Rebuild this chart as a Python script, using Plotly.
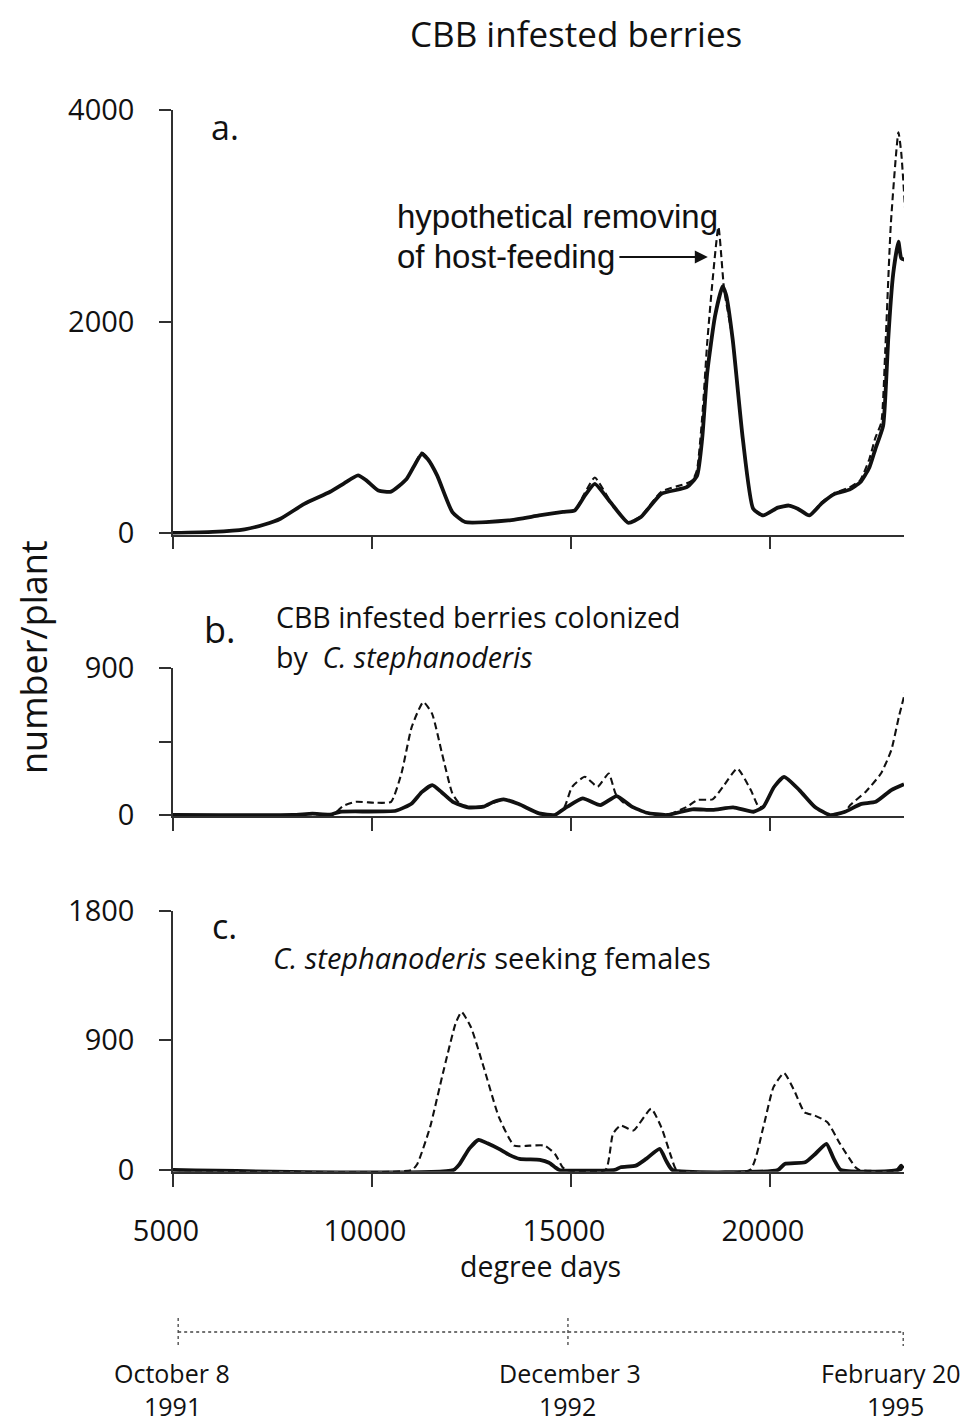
import plotly.graph_objects as go

# ---------------- data ----------------
# Panel a: CBB infested berries
a_solid_x = [5000, 6000, 6800, 7300, 7700, 8300, 8950, 9300, 9650, 9850, 10160, 10480, 10870, 11250, 11400, 11640,
             12020, 12340, 13430, 14200, 14800, 15100, 15350, 15600, 15990, 16440, 16760, 17270, 17910, 18170, 18300,
             18425, 18620, 18810, 18900, 19065, 19320, 19580, 19830, 20200, 20475, 20700, 20990, 21300, 21630, 22000,
             22270, 22500, 22650, 22845, 22930, 22973, 23100, 23230, 23300, 23395]
a_solid_y = [0, 10, 35, 80, 135, 276, 390, 470, 545, 500, 402, 392, 511, 747, 700, 543,
             198, 104, 119, 166, 200, 215, 354, 464, 292, 97, 151, 370, 433, 543, 900,
             1515, 2048, 2331, 2250, 1829, 888, 229, 166, 240, 260, 230, 166, 280, 370, 410,
             480, 620, 794, 1013, 1500, 1829, 2456, 2754, 2600, 2582]
a_dash_x = [5000, 6000, 6800, 7300, 7700, 8300, 8950, 9300, 9650, 9850, 10160, 10480, 10870, 11250, 11400, 11640,
            12020, 12340, 13430, 14200, 14800, 15100, 15350, 15600, 15990, 16440, 16760, 17270, 17910, 18060, 18170,
            18300, 18425, 18550, 18707, 18850, 19065, 19320, 19580, 19830, 20200, 20475, 20700, 20990, 21300, 21630,
            22000, 22270, 22500, 22650, 22800, 22900, 23040, 23230, 23300, 23400]
a_dash_y = [0, 10, 35, 80, 135, 276, 390, 470, 545, 500, 402, 392, 511, 760, 710, 543,
            198, 104, 119, 166, 200, 215, 380, 525, 300, 100, 160, 390, 470, 500, 600,
            1100, 1800, 2350, 2895, 2300, 1829, 888, 229, 166, 240, 260, 230, 166, 290, 380,
            430, 500, 700, 900, 1045, 1735, 2927, 3790, 3600, 3052]

# Panel b: CBB infested berries colonized by C. stephanoderis
b_solid_x = [5000, 8000, 8500, 8950, 9200, 10600, 11000, 11250, 11515, 11750, 12030, 12410, 12800, 13050, 13310,
             13690, 14200, 14590, 14910, 15295, 15740, 16150, 16510, 16900, 17410, 18050, 18560, 19075, 19590,
             19840, 20100, 20356, 20740, 21125, 21510, 21890, 22280, 22660, 23050, 23370]
b_solid_y = [0, 0, 8, 3, 20, 26, 71, 140, 183, 140, 81, 47, 51, 80, 96,
             67, 10, 0, 51, 102, 61, 116, 55, 14, 0, 35, 31, 47, 20,
             51, 170, 234, 153, 51, 0, 20, 67, 81, 153, 189]
b_dash_x = [5000, 9000, 9270, 9590, 10100, 10480, 10740, 11000, 11290, 11510, 11760, 12020, 12200, 12410, 12800,
            13310, 13690, 14200, 14590, 14840, 15030, 15350, 15670, 15950, 16120, 16300, 16510, 16900, 17410,
            17920, 18180, 18560, 18820, 19180, 19520, 19715, 19840, 20100, 20356, 20740, 21125, 21510, 21890,
            22020, 22410, 22790, 23050, 23240, 23410]
b_dash_y = [0, 0, 55, 81, 75, 81, 254, 540, 692, 621, 377, 132, 70, 47, 51,
            96, 67, 10, 0, 51, 173, 234, 173, 254, 132, 80, 55, 14, 0,
            51, 92, 96, 173, 285, 153, 51, 51, 170, 234, 153, 51, 0, 20,
            61, 143, 254, 397, 600, 764]

# Panel c: C. stephanoderis seeking females
c_solid_x = [5000, 12050, 12200, 12450, 12680, 12900, 13190, 13450, 13710, 14220, 14450, 14600, 14710, 16100,
             16250, 16630, 16890, 17230, 17400, 17550, 20200, 20372, 20885, 21140, 21420, 21600, 21780, 23200,
             23300, 23350]
c_solid_y = [0, 0, 40, 150, 209, 185, 146, 105, 77, 70, 50, 19, 0, 0,
             19, 30, 77, 146, 60, 0, 0, 42, 53, 111, 181, 80, 0, 0,
             30, 10]
c_dash_x = [5000, 11000, 11140, 11460, 11780, 12100, 12250, 12485, 12806, 13190, 13575, 13960, 14344, 14600,
            14790, 14900, 15870, 16055, 16250, 16570, 17015, 17270, 17525, 17655, 19500, 19834, 20090, 20356,
            20610, 20868, 21124, 21444, 21764, 22150, 22250, 23300, 23350]
c_dash_y = [0, 0, 42, 297, 668, 1016, 1097, 993, 715, 367, 169, 169, 169, 111,
            19, 0, 0, 250, 309, 274, 425, 297, 88, 0, 0, 297, 575, 673,
            552, 401, 378, 332, 181, 19, 0, 0, 40]

x_ticks = [5000, 10000, 15000, 20000]
x_ticktext = ["5000", "10000", "15000", "20000"]
a_yticks = [0, 2000, 4000]
b_yticks = [0, 450, 900]
b_yticktext = ["0", "", "900"]
c_yticks = [0, 900, 1800]

timeline_dd = [5130, 14925, 23350]
timeline_dates = ["October 8", "December 3", "February 20"]
timeline_years = ["1991", "1992", "1995"]

# ---------------- figure ----------------
# the page body adds an 8px margin, so the figure is made 8px smaller and
# all screen positions below are given in page pixels minus that offset
OFF = 8
W, H = 976 - OFF, 1423 - OFF
FONT = "Open Sans"
INK = "#111111"
AX = "#303030"


def px(p):
    return (p - OFF) / W


def py(p):
    return 1 - (p - OFF) / H


fig = go.Figure()

panels = [
    ("x", "y", a_solid_x, a_solid_y, a_dash_x, a_dash_y),
    ("x2", "y2", b_solid_x, b_solid_y, b_dash_x, b_dash_y),
    ("x3", "y3", c_solid_x, c_solid_y, c_dash_x, c_dash_y),
]
for xa, ya, sx, sy, dx, dy in panels:
    fig.add_trace(go.Scatter(x=dx, y=dy, xaxis=xa, yaxis=ya, mode="lines",
                             line=dict(color=INK, width=2.1, dash="7px,4px", shape="spline", smoothing=0.5),
                             hoverinfo="skip"))
    fig.add_trace(go.Scatter(x=sx, y=sy, xaxis=xa, yaxis=ya, mode="lines",
                             line=dict(color=INK, width=3.8, shape="spline", smoothing=0.5),
                             hoverinfo="skip"))

xdom = [px(173), px(904)]
xcommon = dict(domain=xdom, range=[5000, 23370], showline=True, linecolor=AX, linewidth=1.6,
               ticks="outside", ticklen=13, tickwidth=1.5, tickcolor=AX, tickvals=x_ticks, ticktext=x_ticktext,
               showgrid=False, zeroline=False, fixedrange=True, automargin=False)
ycommon = dict(showline=True, linecolor=AX, linewidth=1.6, ticks="outside", ticklen=12, tickwidth=1.5,
               tickcolor=AX, showgrid=False, zeroline=False, tickfont=dict(family=FONT, size=29, color="#111"),
               ticklabelstandoff=19, fixedrange=True, automargin=False)

fig.update_layout(
    width=W, height=H, margin=dict(l=0, r=0, t=0, b=0, autoexpand=False),
    paper_bgcolor="white", plot_bgcolor="white", showlegend=False,
    xaxis=dict(**xcommon, anchor="y", showticklabels=False),
    xaxis2=dict(**xcommon, anchor="y2", showticklabels=False),
    xaxis3=dict(**xcommon, anchor="y3", showticklabels=True,
                tickfont=dict(family=FONT, size=29, color="#111"), ticklabelstandoff=20,
                ticklabelshift=-7),
    yaxis=dict(**ycommon, anchor="x", domain=[py(534.6), py(110)], range=[-15, 4000], tickvals=a_yticks),
    yaxis2=dict(**ycommon, anchor="x2", domain=[py(816), py(668)], range=[-6, 900], tickvals=b_yticks,
                ticktext=b_yticktext),
    yaxis3=dict(**ycommon, anchor="x3", domain=[py(1171.7), py(910.7)], range=[-12, 1800], tickvals=c_yticks),
)

ann = []


def text(x, y, s, size, family=FONT, xanchor="center", angle=0, pad=1):
    ann.append(dict(x=px(x), y=py(y), xref="paper", yref="paper", text=s, showarrow=False,
                    xanchor=xanchor, yanchor="middle", textangle=angle, borderpad=pad,
                    font=dict(family=family, size=size, color="#111")))


text(576, 33, "CBB infested berries", 35)
text(33, 657, "number/plant", 36, angle=-90)
text(225, 127, "a.", 34)
text(219, 630, "b.", 36)
text(224, 926, "c.", 34)
text(395, 217, "hypothetical removing", 33, family="Liberation Sans", xanchor="left")
text(395, 257, "of host-feeding", 33, family="Liberation Sans", xanchor="left")
text(274, 617, "CBB infested berries colonized", 28.5, xanchor="left")
text(274, 657, "by&nbsp; <i>C. stephanoderis</i>", 28.5, xanchor="left")
text(271, 957, "<i>C. stephanoderis</i> seeking females", 29, xanchor="left")
text(540, 1266, "degree days", 28.5)

# arrow to the dashed peak
ann.append(dict(x=18440, y=2610, xref="x", yref="y", ax=16180, ay=2610, axref="x", ayref="y",
                text="", showarrow=True, arrowhead=2, arrowsize=1.3, arrowwidth=2, arrowcolor="#111"))

# timeline labels
date_px = [172, 570, 891]
year_px = [172, 567, 895]
for p_, lab in zip(date_px, timeline_dates):
    text(p_, 1373, lab, 25, pad=0)
for p_, lab in zip(year_px, timeline_years):
    text(p_, 1406, lab, 25, pad=0)

fig.update_layout(annotations=ann)

# timeline (dotted) in degree-day coordinates
shapes = [
    dict(type="line", xref="x3", yref="paper", x0=timeline_dd[0], x1=timeline_dd[2], y0=py(1332), y1=py(1332),
         line=dict(color="#444", width=1.3, dash="dot")),
    dict(type="line", xref="x3", yref="paper", x0=timeline_dd[0], x1=timeline_dd[0], y0=py(1318), y1=py(1346),
         line=dict(color="#444", width=1.3, dash="dot")),
    dict(type="line", xref="x3", yref="paper", x0=timeline_dd[1], x1=timeline_dd[1], y0=py(1318), y1=py(1346),
         line=dict(color="#444", width=1.3, dash="dot")),
    dict(type="line", xref="x3", yref="paper", x0=timeline_dd[2], x1=timeline_dd[2], y0=py(1332), y1=py(1346),
         line=dict(color="#444", width=1.3, dash="dot")),
]
fig.update_layout(shapes=shapes)

fig.write_html("out.html")
